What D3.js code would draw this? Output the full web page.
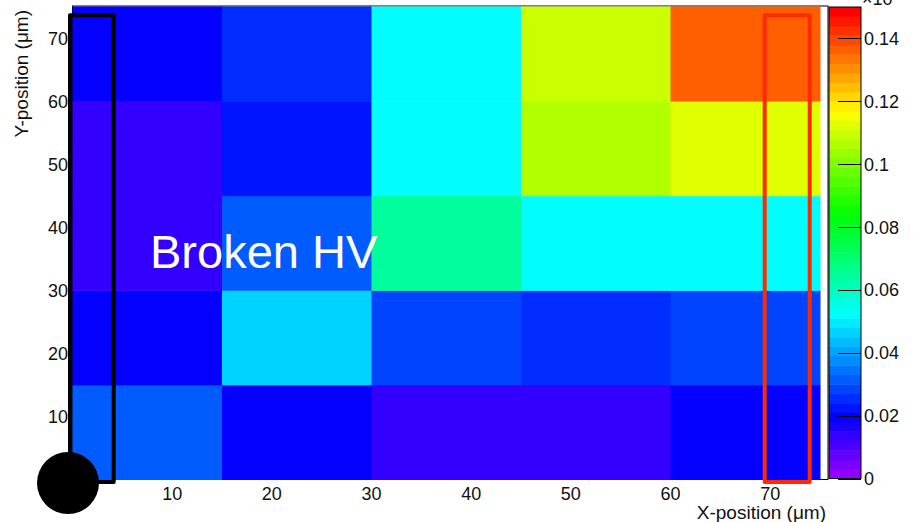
<!DOCTYPE html>
<html><head><meta charset="utf-8">
<script src="https://cdn.jsdelivr.net/npm/d3@7"></script>
<style>body{margin:0;background:#fff}svg{display:block;font-family:"Liberation Sans",Arial,Helvetica,sans-serif}</style>
</head><body><svg id="c" width="922" height="522"></svg>
<script>
// bin edges (µm)
const xEdges = [0, 15, 30, 45, 60, 75];
const yEdges = [0, 15, 30, 45, 60, 75];
// cell values, one row per y bin, bottom (0-15) to top (60-75)
const row0 = [0.031, 0.019, 0.013, 0.014, 0.019];
const row1 = [0.019, 0.046, 0.027, 0.026, 0.027];
const row2 = [0.014, 0.031, 0.065, 0.053, 0.053];
const row3 = [0.014, 0.021, 0.053, 0.106, 0.111];
const row4 = [0.020, 0.024, 0.053, 0.109, 0.137];
const rows = [row0, row1, row2, row3, row4];
const xTicks = [10, 20, 30, 40, 50, 60, 70];
const yTicks = [10, 20, 30, 40, 50, 60, 70];
const zTicks = [0, 0.02, 0.04, 0.06, 0.08, 0.1, 0.12, 0.14];
const zTickLabels = ["0", "0.02", "0.04", "0.06", "0.08", "0.1", "0.12", "0.14"];
const zMax = 0.15, nContours = 50;

const svg = d3.select("#c");
const x = d3.scaleLinear().domain([0, 75.8]).range([72.5, 828]);
const y = d3.scaleLinear().domain([0, 75]).range([479.5, 6.5]);
const z = d3.scaleLinear().domain([0, zMax]).range([478.5, 7]);
const colorIdx = v => Math.max(0, Math.min(nContours - 1, Math.floor(v / zMax * nContours)));
const colorOf = k => d3.hsl(280 - (k + 1) * (280 / nContours), 1, 0.5).formatHex();

// frame
svg.append("rect").attr("x", x(0)).attr("y", 6).attr("width", x(75.8) - x(0))
  .attr("height", y(0) - 6).attr("fill", "#fff").attr("stroke", "#000").attr("stroke-width", 1);

// cells
const cells = [];
rows.forEach((r, j) => r.forEach((v, i) => cells.push({i, j, v})));
svg.append("g").selectAll("rect").data(cells).join("rect")
  .attr("x", d => x(xEdges[d.i])).attr("y", d => y(yEdges[d.j + 1]))
  .attr("width", d => x(xEdges[d.i + 1]) - x(xEdges[d.i]) + 0.5)
  .attr("height", d => y(yEdges[d.j]) - y(yEdges[d.j + 1]) + 0.5)
  .attr("fill", d => colorOf(colorIdx(d.v)));

// axis tick labels
svg.append("g").selectAll("text").data(xTicks).join("text")
  .attr("x", d => x(d)).attr("y", 499.5).attr("text-anchor", "middle")
  .attr("font-size", 18).attr("fill", "#111").text(d => d);
svg.append("g").selectAll("text").data(yTicks).join("text")
  .attr("x", 68).attr("y", d => y(d) + 6.5).attr("text-anchor", "end")
  .attr("font-size", 18).attr("fill", "#111").text(d => d);

// axis titles
svg.append("text").attr("x", 826).attr("y", 519).attr("text-anchor", "end")
  .attr("font-size", 19).attr("fill", "#111").text("X-position (μm)");
svg.append("text").attr("transform", "translate(28,10) rotate(-90)").attr("text-anchor", "end")
  .attr("font-size", 19).attr("fill", "#111").text("Y-position (μm)");

// palette
const bands = d3.range(nContours);
svg.append("g").selectAll("rect").data(bands).join("rect")
  .attr("x", 829).attr("width", 32)
  .attr("y", k => z((k + 1) * zMax / nContours)).attr("height", k => z(k * zMax / nContours) - z((k + 1) * zMax / nContours) + 0.5)
  .attr("fill", k => colorOf(k));
svg.append("rect").attr("x", 829).attr("y", z(zMax)).attr("width", 32).attr("height", z(0) - z(zMax))
  .attr("fill", "none").attr("stroke", "#000").attr("stroke-width", 1);
svg.append("g").selectAll("line").data(zTicks).join("line")
  .attr("x1", 838).attr("x2", 861).attr("y1", d => Math.round(z(d)) + 0.5).attr("y2", d => Math.round(z(d)) + 0.5)
  .attr("stroke", "#000").attr("stroke-width", 1);
svg.append("g").selectAll("text").data(zTicks).join("text")
  .attr("x", 864).attr("y", d => z(d) + 6.5).attr("font-size", 18).attr("fill", "#111")
  .text((d, i) => zTickLabels[i]);
svg.append("text").attr("x", 862).attr("y", 5).attr("font-size", 18).attr("fill", "#111").text("×10");

// annotation
svg.append("text").attr("x", 150).attr("y", 268).attr("font-size", 47).attr("fill", "#fff").text("Broken HV");

// markers
svg.append("rect").attr("x", 70).attr("y", 15.3).attr("width", 43.7).attr("height", 466.7)
  .attr("fill", "none").attr("stroke", "#000").attr("stroke-width", 4).attr("stroke-linejoin", "round");
svg.append("rect").attr("x", 764.7).attr("y", 15.3).attr("width", 45).attr("height", 466.7)
  .attr("fill", "none").attr("stroke", "#ff2a00").attr("stroke-width", 4).attr("stroke-linejoin", "round");
svg.append("circle").attr("cx", 68).attr("cy", 483).attr("r", 31).attr("fill", "#000");
</script></body></html>
